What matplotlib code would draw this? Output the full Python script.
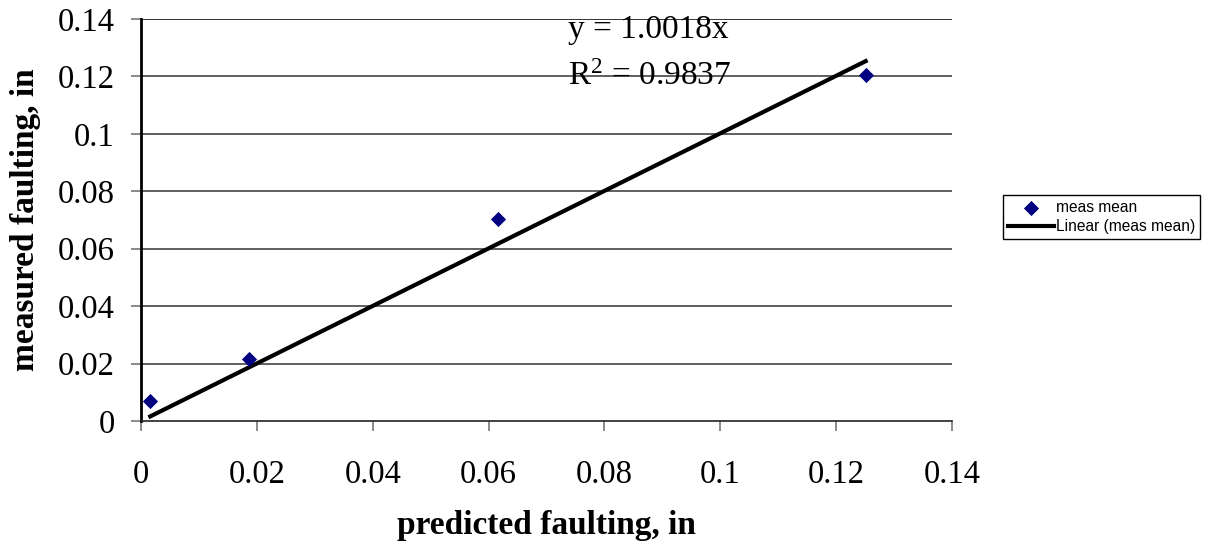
import matplotlib
matplotlib.use("Agg")
import matplotlib.pyplot as plt
import numpy as np

# Predicted vs. measured faulting (inches)
predicted = [0.0016, 0.0186, 0.0616, 0.1251]
measured = [0.0070, 0.0217, 0.0702, 0.1205]
slope = 1.0018
r_squared = 0.9837

tick_vals = [0, 0.02, 0.04, 0.06, 0.08, 0.1, 0.12, 0.14]
tick_labels = ["0", "0.02", "0.04", "0.06", "0.08", "0.1", "0.12", "0.14"]

serif = ["Liberation Serif", "DejaVu Serif"]
plt.rcParams["mathtext.fontset"] = "custom"
plt.rcParams["mathtext.rm"] = "Liberation Serif"
plt.rcParams["mathtext.it"] = "Liberation Serif:italic"

fig = plt.figure(figsize=(12.06, 5.48), dpi=100)
ax = fig.add_axes([141 / 1206, 1 - 421 / 548, (952 - 141) / 1206, (421 - 19) / 548])

ax.set_xlim(0, 0.14)
ax.set_ylim(0, 0.14)

# horizontal gridlines
for v in tick_vals[1:]:
    ax.axhline(v, color="#111111" if v == 0.14 else "#444444", lw=1.2, zorder=1)

ax.scatter(predicted, measured, marker="D", s=60, color="#000080",
           zorder=3, label="meas mean", linewidths=0)

xs = np.array([min(predicted), max(predicted)])
ax.plot(xs, slope * xs, color="black", lw=3, zorder=2, label="Linear (meas mean)")

for side in ("top", "right"):
    ax.spines[side].set_visible(False)
ax.spines["left"].set_color("black")
ax.spines["left"].set_linewidth(2)
ax.spines["bottom"].set_color("#222222")
ax.spines["bottom"].set_linewidth(1.2)

ax.set_xticks(tick_vals)
ax.set_xticklabels(tick_labels, family=serif, fontsize=23.5)
ax.set_yticks(tick_vals)
ax.set_yticklabels(tick_labels, family=serif, fontsize=23.5)
ax.tick_params(axis="x", direction="out", length=7, color="#777777", width=1.2, pad=21)
ax.tick_params(axis="y", direction="out", length=7, color="#777777", width=1.2, pad=12)

ax.set_xlabel("predicted faulting, in", family=serif, fontsize=24,
              fontweight="bold", labelpad=14)
ax.set_ylabel("measured faulting, in", family=serif, fontsize=24,
              fontweight="bold", labelpad=12)

ax.text(0.0737, 0.1362, f"y = {slope:.4f}x", family=serif, fontsize=24,
        ha="left", va="center", zorder=4)
ax.text(0.0737, 0.1200, f"R$^2$ = {r_squared:.4f}", family=serif, fontsize=24,
        ha="left", va="center", zorder=4)

leg = ax.legend(loc="center left", bbox_to_anchor=(1003 / 1206, 1 - 217 / 548),
                bbox_transform=fig.transFigure, fancybox=False, framealpha=1,
                edgecolor="black", prop={"family": "Liberation Sans", "size": 11.2},
                handlelength=3.0, handletextpad=0.1, borderpad=0.3,
                labelspacing=0.25, borderaxespad=0)
leg.get_frame().set_linewidth(1)

fig.savefig("out.png", dpi=100)
